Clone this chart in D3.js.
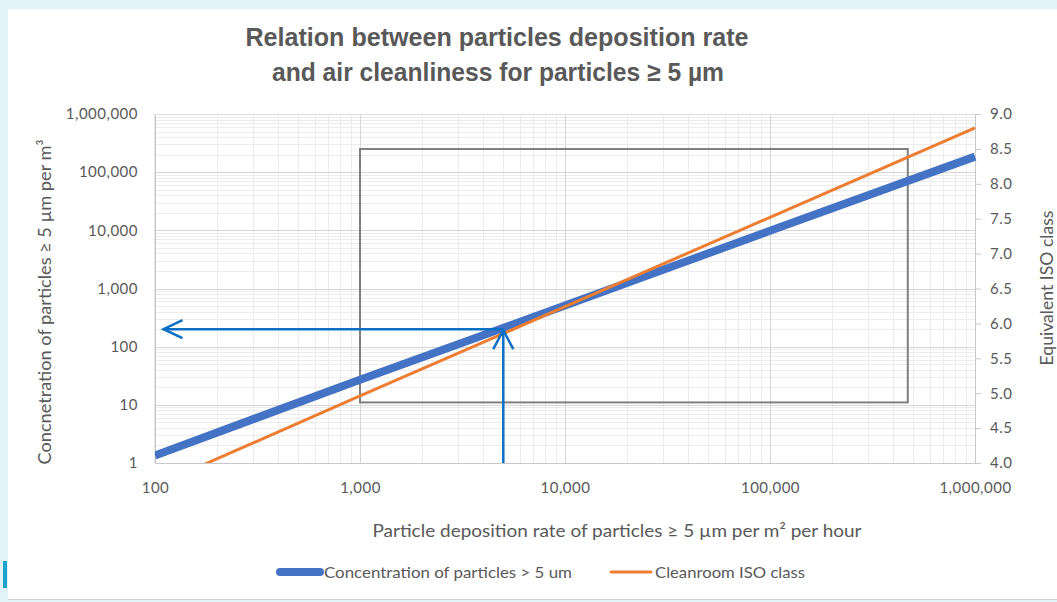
<!DOCTYPE html>
<html>
<head>
<meta charset="utf-8">
<script src="https://cdn.jsdelivr.net/npm/d3@7"></script>
<style>
  html, body { margin: 0; padding: 0; background: #e3f1f9; }
  svg { display: block; }
</style>
</head>
<body>
<svg id="chart" width="1057" height="602"></svg>
<script>
// ---- data ----
const depositionRate = [100, 1000, 10000, 100000, 1000000];
const concentration = [1.35, 27, 510, 9800, 185000];
const isoClass = [3.67, 4.96, 6.24, 7.52, 8.8];
const xTicks = [100, 1000, 10000, 100000, 1000000];
const yTicks = [1, 10, 100, 1000, 10000, 100000, 1000000];
const y2Ticks = [4.0, 4.5, 5.0, 5.5, 6.0, 6.5, 7.0, 7.5, 8.0, 8.5, 9.0];
const boxX = [1000, 470000];
const boxY = [11, 250000];
const arrowPoint = { x: 5000, y: 200 };
const arrowLeftEnd = 110;
const titleLines = ["Relation between particles deposition rate", "and air cleanliness for particles \u2265 5 \u00b5m"];
const seriesNames = ["Concentration of particles > 5 um", "Cleanroom ISO class"];

// ---- layout ----
const svg = d3.select("#chart");
const L = 155, R = 975, T = 114, B = 463;
const x = d3.scaleLog().domain([100, 1000000]).range([L, R]);
const y = d3.scaleLog().domain([1, 1000000]).range([B, T]);
const y2 = d3.scaleLinear().domain([4, 9]).range([B, T]);
const textColor = "#595959";
const font = "Lato, 'Open Sans', sans-serif";

// frame
svg.append("rect").attr("x", 8).attr("y", 9).attr("width", 1049).attr("height", 590).attr("fill", "#ffffff");
svg.append("line").attr("x1", 8).attr("x2", 1057).attr("y1", 599.5).attr("y2", 599.5).attr("stroke", "#d0d0d0");
svg.append("rect").attr("x", 3).attr("y", 561).attr("width", 4).attr("height", 27).attr("fill", "#1ba3cc");

// minor gridlines
const minorX = [], minorY = [];
for (let d = 100; d < 1000000; d *= 10) for (let k = 2; k <= 9; k++) minorX.push(d * k);
for (let d = 1; d < 1000000; d *= 10) for (let k = 2; k <= 9; k++) minorY.push(d * k);
const grid = svg.append("g");
grid.selectAll(".mx").data(minorX).join("line")
  .attr("x1", d => Math.round(x(d)) + 0.5).attr("x2", d => Math.round(x(d)) + 0.5)
  .attr("y1", T).attr("y2", B).attr("stroke", "#ececec").attr("stroke-width", 1);
grid.selectAll(".my").data(minorY).join("line")
  .attr("y1", d => Math.round(y(d)) + 0.5).attr("y2", d => Math.round(y(d)) + 0.5)
  .attr("x1", L).attr("x2", R).attr("stroke", "#ececec").attr("stroke-width", 1);
// major gridlines
grid.selectAll(".Mx").data(xTicks).join("line")
  .attr("x1", d => Math.round(x(d)) + 0.5).attr("x2", d => Math.round(x(d)) + 0.5)
  .attr("y1", T).attr("y2", B).attr("stroke", "#d6d6d6").attr("stroke-width", 1);
grid.selectAll(".My").data(yTicks).join("line")
  .attr("y1", d => Math.round(y(d)) + 0.5).attr("y2", d => Math.round(y(d)) + 0.5)
  .attr("x1", L).attr("x2", R).attr("stroke", "#d6d6d6").attr("stroke-width", 1);

// axes
const fmt = d3.format(",");
const xAxis = svg.append("g").attr("transform", `translate(0,${B})`)
  .call(d3.axisBottom(x).tickValues(xTicks).tickFormat(fmt).tickSize(0).tickPadding(19));
const yAxis = svg.append("g").attr("transform", `translate(${L},0)`)
  .call(d3.axisLeft(y).tickValues(yTicks).tickFormat(fmt).tickSize(0).tickPadding(17));
const y2Axis = svg.append("g").attr("transform", `translate(${R},0)`)
  .call(d3.axisRight(y2).tickValues(y2Ticks).tickFormat(d3.format(".1f")).tickSize(6).tickPadding(9));
[xAxis, yAxis, y2Axis].forEach(a => {
  a.select(".domain").attr("stroke", "#c8c8c8");
  a.selectAll(".tick line").attr("stroke", "#c8c8c8");
  a.selectAll(".tick text").attr("fill", textColor).attr("font-family", font)
    .attr("font-size", 15).attr("letter-spacing", 0.5);
});
svg.append("line").attr("x1", L).attr("x2", L).attr("y1", T).attr("y2", B).attr("stroke", "#c8c8c8");
svg.append("line").attr("x1", L).attr("x2", R).attr("y1", T + 0.5).attr("y2", T + 0.5).attr("stroke", "#dedede");

// clip
svg.append("clipPath").attr("id", "plotclip").append("rect")
  .attr("x", L).attr("y", T - 2).attr("width", R - L + 2).attr("height", B - T + 2);

// box
svg.append("rect")
  .attr("x", x(boxX[0])).attr("y", y(boxY[1]))
  .attr("width", x(boxX[1]) - x(boxX[0])).attr("height", y(boxY[0]) - y(boxY[1]))
  .attr("fill", "none").attr("stroke", "#7f7f7f").attr("stroke-width", 2);

// series
const g = svg.append("g").attr("clip-path", "url(#plotclip)");
const pts1 = depositionRate.map((d, i) => [d, concentration[i]]);
const pts2 = depositionRate.map((d, i) => [d, isoClass[i]]);
g.append("path").datum(pts1)
  .attr("d", d3.line().x(d => x(d[0])).y(d => y(d[1])))
  .attr("fill", "none").attr("stroke", "#4472c4").attr("stroke-width", 8);
g.append("path").datum(pts2)
  .attr("d", d3.line().x(d => x(d[0])).y(d => y2(d[1])))
  .attr("fill", "none").attr("stroke", "#ed7d31").attr("stroke-width", 3);

// arrows
const ac = "#0b6fc4";
const ax = x(arrowPoint.x), ay = y(arrowPoint.y), axl = x(arrowLeftEnd);
const arr = svg.append("g").attr("stroke", ac).attr("stroke-width", 2.5).attr("fill", "none");
arr.append("line").attr("x1", ax).attr("x2", axl).attr("y1", ay).attr("y2", ay);
arr.append("path").attr("d", `M${axl + 19},${ay - 9} L${axl},${ay} L${axl + 19},${ay + 9}`);
arr.append("line").attr("x1", ax).attr("x2", ax).attr("y1", B).attr("y2", ay + 1);
arr.append("path").attr("d", `M${ax - 10},${ay + 20} L${ax},${ay + 1} L${ax + 10},${ay + 20}`);

// titles
const titleFont = "'Liberation Sans Narrow', 'Arial Narrow', 'Liberation Sans', sans-serif";
svg.append("text").attr("x", 497).attr("y", 46).attr("text-anchor", "middle").attr("fill", textColor)
  .attr("font-family", titleFont).attr("font-weight", "bold").attr("font-size", 26)
  .attr("textLength", 503).attr("lengthAdjust", "spacingAndGlyphs").text(titleLines[0]);
svg.append("text").attr("x", 498).attr("y", 81).attr("text-anchor", "middle").attr("fill", textColor)
  .attr("font-family", titleFont).attr("font-weight", "bold").attr("font-size", 26)
  .attr("textLength", 452).attr("lengthAdjust", "spacingAndGlyphs").text(titleLines[1]);

svg.append("text").attr("transform", "translate(51,302) rotate(-90)")
  .attr("text-anchor", "middle").attr("fill", textColor).attr("font-family", font).attr("font-size", 18)
  .attr("textLength", 325).attr("lengthAdjust", "spacingAndGlyphs")
  .text("Concnetration of particles \u2265 5 \u00b5m per m\u00b3");
svg.append("text").attr("transform", "translate(1053,288) rotate(-90)")
  .attr("text-anchor", "middle").attr("fill", textColor).attr("font-family", font).attr("font-size", 18)
  .attr("textLength", 155).attr("lengthAdjust", "spacingAndGlyphs")
  .text("Equivalent ISO class");
svg.append("text").attr("x", 617).attr("y", 537)
  .attr("text-anchor", "middle").attr("fill", textColor).attr("font-family", font).attr("font-size", 18)
  .attr("textLength", 489).attr("lengthAdjust", "spacingAndGlyphs")
  .text("Particle deposition rate of particles \u2265 5 \u00b5m per m\u00b2 per hour");

// legend
const lg = svg.append("g");
lg.append("line").attr("x1", 280).attr("x2", 320).attr("y1", 572).attr("y2", 572)
  .attr("stroke", "#4472c4").attr("stroke-width", 8).attr("stroke-linecap", "round");
lg.append("text").attr("x", 324).attr("y", 578).attr("fill", textColor).attr("font-family", font).attr("font-size", 16)
  .attr("textLength", 248).attr("lengthAdjust", "spacingAndGlyphs").text(seriesNames[0]);
lg.append("line").attr("x1", 611).attr("x2", 651).attr("y1", 572).attr("y2", 572)
  .attr("stroke", "#ed7d31").attr("stroke-width", 3).attr("stroke-linecap", "round");
lg.append("text").attr("x", 655).attr("y", 578).attr("fill", textColor).attr("font-family", font).attr("font-size", 16)
  .attr("textLength", 150).attr("lengthAdjust", "spacingAndGlyphs").text(seriesNames[1]);
</script>
</body>
</html>
